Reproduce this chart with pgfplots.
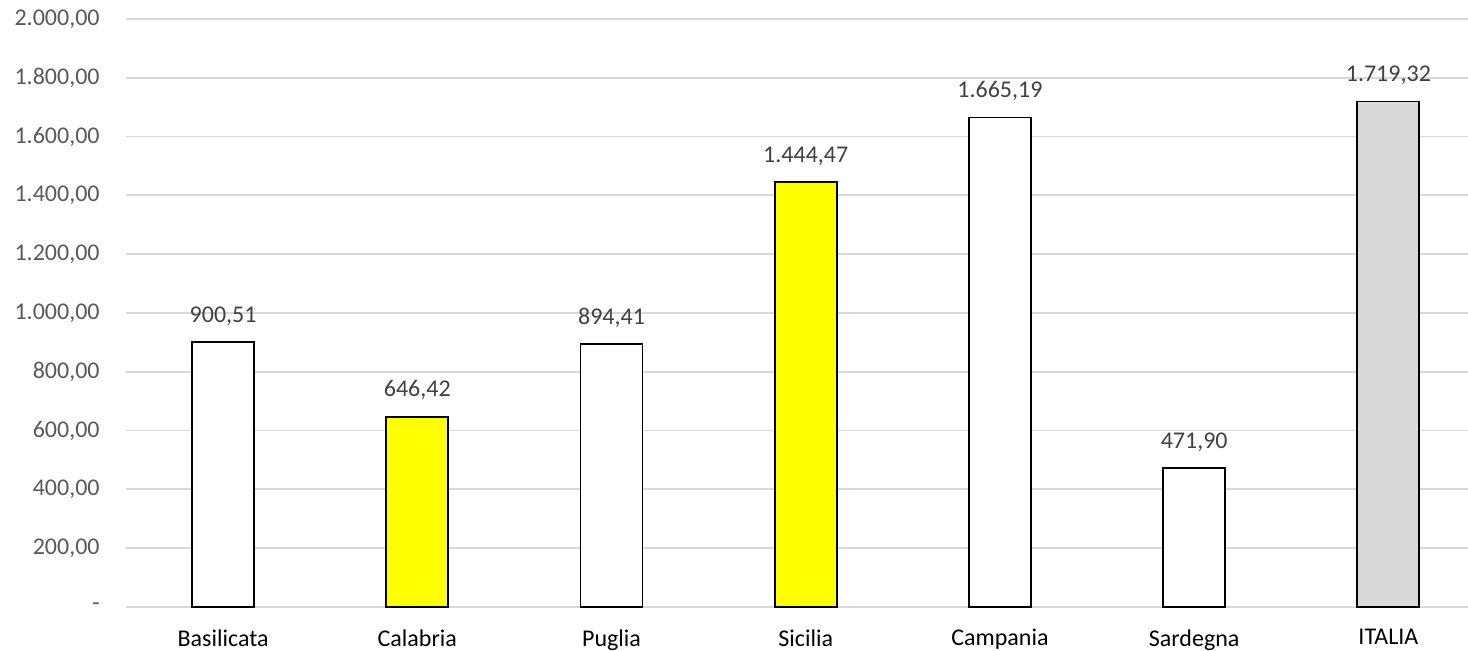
\documentclass[border=0pt]{standalone}
\usepackage{pgfplots}
\pgfplotsset{compat=1.18}
\usepackage{fontspec}
\setmainfont{Carlito}
\definecolor{gridgray}{RGB}{217,217,217}
\definecolor{ticktext}{RGB}{89,89,89}
\definecolor{lbltext}{RGB}{64,64,64}
\definecolor{ybar}{RGB}{255,255,0}
\definecolor{gbar}{RGB}{217,217,217}
\begin{document}
\begin{tikzpicture}
\begin{axis}[
  scale only axis,
  width=671pt, height=294pt,
  xmin=-0.5, xmax=6.41,
  ymin=0, ymax=2000,
  ytick={0,200,400,600,800,1000,1200,1400,1600,1800,2000},
  yticklabels={-,{200,00},{400,00},{600,00},{800,00},{1.000,00},{1.200,00},{1.400,00},{1.600,00},{1.800,00},{2.000,00}},
  xtick={0,1,2,3,4,5,6},
  xticklabels={Basilicata,Calabria,Puglia,Sicilia,Campania,Sardegna,ITALIA},
  major tick length=0pt,
  axis line style={draw=none},
  ymajorgrids,
  grid style={gridgray, line width=0.9pt},
  font=\fontsize{12}{14}\selectfont,
  yticklabel style={text=ticktext, inner sep=0pt, anchor=east, xshift=-13pt},
  xticklabel style={text=black, inner sep=0pt, anchor=north, yshift=-11pt},
  ybar, bar width=31pt, bar shift=0pt,
  point meta=explicit symbolic,
  nodes near coords,
  every node near coord/.append style={text=lbltext, inner sep=0pt, yshift=8pt, font=\fontsize{12}{14}\selectfont},
  clip=false,
]
\addplot[draw=black, line width=0.9pt, fill=white] table[meta=lab] {
x y lab
0 900.51 900,51
2 894.41 894,41
4 1665.19 1.665,19
5 471.90 471,90
};
\addplot[draw=black, line width=0.9pt, fill=ybar] table[meta=lab] {
x y lab
1 646.42 646,42
3 1444.47 1.444,47
};
\addplot[draw=black, line width=0.9pt, fill=gbar] table[meta=lab] {
x y lab
6 1719.32 1.719,32
};
\end{axis}
\pgfresetboundingbox
\path (current axis.south west) ++(-63pt,-22pt) coordinate (a);
\path (current axis.north east) ++(0pt,9.5pt) coordinate (b);
\path (a) rectangle (b);
\end{tikzpicture}
\end{document}
